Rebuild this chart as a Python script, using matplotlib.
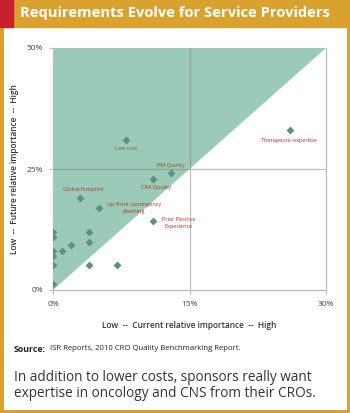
import matplotlib.pyplot as plt
from matplotlib.patches import Rectangle

plt.rcParams['font.family'] = ['Open Sans', 'DejaVu Sans']

# current (x) vs future (y) relative importance, in %
labels = ["Low cost", "PM Quality", "CRA Quality", "Global footprint",
          "Up-front contingency\nplanning", "Prior Positive\nExperience",
          "Therapeutic expertise"]
lab_x = [8, 13, 11, 3, 5, 11, 26]
lab_y = [31, 24.2, 23, 19, 17, 14.2, 33]
lab_colors = ["#8a5a2c", "#8a4b2c", "#a8352c", "#a8352c", "#a8352c",
              "#c0282d", "#c0282d"]

other_x = [0, 0, 0, 0, 0, 0, 1, 2, 4, 4, 4, 7]
other_y = [11.9, 11, 8, 7, 5.2, 1.2, 8, 9.2, 12, 10, 5.2, 5.2]

x_ticks = [0, 15, 30]
x_ticklabels = ["0%", "15%", "30%"]
y_ticks = [0, 25, 50]
y_ticklabels = ["0%", "25%", "50%"]

gold = "#d9a12e"
green = "#9ccab9"
marker_c = "#5e8f82"

fig = plt.figure(figsize=(3.5, 4.13), dpi=100)

# frame and header
fig.patches.append(Rectangle((0, 0), 1, 1, transform=fig.transFigure,
                             fill=False, edgecolor=gold, linewidth=5))
fig.patches.append(Rectangle((0, 1 - 27 / 413), 1, 27 / 413, transform=fig.transFigure,
                             color=gold))
fig.patches.append(Rectangle((0, 1 - 27 / 413), 13 / 350, 27 / 413, transform=fig.transFigure,
                             color="#c8202f"))
fig.text(20 / 350, 1 - 13.5 / 413, "Requirements Evolve for Service Providers",
         color="white", fontsize=10.6, fontweight="bold", ha="left", va="center")

ax = fig.add_axes([53 / 350, 1 - 290 / 413, 273 / 350, 242 / 413])
ax.fill([0, 30, 0], [0, 50, 50], color=green, zorder=1, lw=0)
ax.axvline(15, color="#808080", alpha=0.5, lw=0.9, zorder=2)
ax.axhline(25, color="#808080", alpha=0.5, lw=0.9, zorder=2)

ax.scatter(other_x, other_y, marker="D", s=16, color=marker_c, zorder=3, lw=0)
ax.scatter(lab_x, lab_y, marker="D", s=16, color=marker_c, zorder=3, lw=0)

offsets = [(0, -1.7), (0, 1.6), (0.3, -1.9), (0.3, 1.8), (3.9, 0.0),
           (2.8, -0.4), (-0.1, -2.2)]
for lx, ly, t, c, (dx, dy) in zip(lab_x, lab_y, labels, lab_colors, offsets):
    ax.text(lx + dx, ly + dy, t, color=c, fontsize=4, ha="center", va="center",
            linespacing=1.5, zorder=4)

ax.set_xlim(0, 30)
ax.set_ylim(0, 50)
ax.set_xticks(x_ticks)
ax.set_xticklabels(x_ticklabels)
ax.set_yticks(y_ticks)
ax.set_yticklabels(y_ticklabels)
ax.tick_params(length=3, width=0.8, color="#bbbbbb", labelsize=6,
               labelcolor="#444444", pad=4)
ax.tick_params(axis="x", pad=5)
for s in ["left", "bottom", "right"]:
    ax.spines[s].set_color("#bbbbbb")
    ax.spines[s].set_linewidth(0.9)
ax.spines["top"].set_visible(False)

ax.set_xlabel("Low  --  Current relative importance  --  High", fontsize=6.0,
              fontweight="semibold", color="#333333", labelpad=9)
ax.set_ylabel("Low  --  Future relative importance  --  High", fontsize=6.0,
              fontweight="semibold", color="#333333", labelpad=6)

fig.text(14 / 350, 1 - 349 / 413, "Source:", fontsize=6.3, va="center",
         fontweight="bold", color="#222222")
fig.text(50 / 350, 1 - 349 / 413, "ISR Reports, 2010 CRO Quality Benchmarking Report.",
         fontsize=5.6, va="center", color="#222222")
fig.text(14 / 350, 1 - 385.5 / 413,
         "In addition to lower costs, sponsors really want\nexpertise in oncology and CNS from their CROs.",
         fontsize=9.8, va="center", color="#333333", linespacing=1.1)

fig.savefig("out.png", dpi=100)
